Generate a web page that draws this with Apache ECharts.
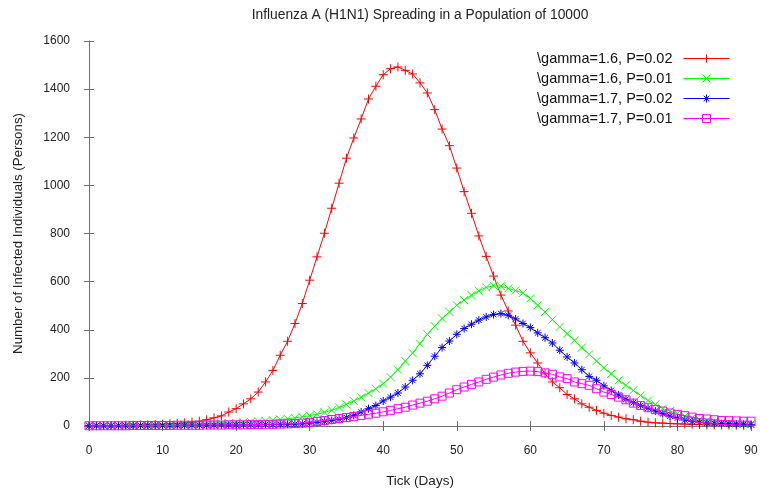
<!DOCTYPE html>
<html>
<head>
<meta charset="utf-8">
<script src="https://cdn.jsdelivr.net/npm/echarts@6/dist/echarts.min.js"></script>
<style>
html,body{margin:0;padding:0;background:#fff;}
#chart{width:760px;height:490px;}
</style>
</head>
<body>
<div id="chart"></div>
<script>
// Days 0..90
var days = [];
for (var d = 0; d <= 90; d++) days.push(d);

var seriesNames = [
  "\\gamma=1.6, P=0.02",
  "\\gamma=1.6, P=0.01",
  "\\gamma=1.7, P=0.02",
  "\\gamma=1.7, P=0.01"
];

var red = [1,1,2,2,2,3,3,4,5,6,7,9,11,13,16,20,26,34,42,58,72,92,113,141,183,231,294,352,426,509,606,703,801,905,1009,1113,1197,1276,1359,1412,1460,1485,1492,1478,1463,1426,1384,1315,1234,1165,1072,974,884,790,705,623,544,478,419,352,304,262,217,183,159,131,113,92,78,65,53,44,37,30,26,20,16,13,12,10,9,8,7,6,5,5,4,4,3,3,3];

var green = [1,1,1,2,2,2,3,3,3,4,4,5,5,6,7,8,9,10,11,12,14,15,17,19,21,24,27,30,34,38,43,49,57,66,77,90,104,119,137,155,176,203,234,270,303,342,381,415,447,474,502,523,544,562,576,583,581,572,563,553,530,502,474,442,412,384,356,326,298,270,242,217,190,169,148,127,106,90,72,62,51,41,34,27,22,18,15,12,10,9,8];

var blue = [1,1,1,1,1,1,1,2,2,2,2,2,2,3,3,3,3,3,4,4,4,5,5,5,6,6,7,7,8,9,12,15,19,23,28,35,44,58,72,85,104,120,137,162,190,217,252,290,326,353,381,405,423,440,453,463,467,460,445,426,409,387,367,345,315,287,262,234,206,190,167,148,129,111,97,85,74,62,51,41,33,25,19,15,12,11,10,9,8,7,6];

var magenta = [1,1,1,1,1,1,2,2,2,2,2,2,3,3,3,3,4,4,4,5,5,5,6,6,7,7,8,9,10,12,15,19,23,27,31,35,40,44,49,53,59,65,72,78,87,95,103,113,124,137,151,162,173,183,194,203,212,219,224,227,228,226,221,215,204,197,183,176,169,155,141,131,120,109,95,85,76,68,62,54,48,43,37,31,29,26,23,22,21,20,20];

var xTicks = {min: 0, max: 90, interval: 10};
var yTicks = {min: 0, max: 1600, interval: 200};

var colors = ['#ff0000', '#00ff00', '#0000ff', '#ff00ff'];
// open-path markers (stroked only): plus, cross, asterisk, hollow square
var symbols = [
  'path://M0,5L10,5M5,0L5,10',
  'path://M0,0L10,10M10,0L0,10',
  'path://M0,5L10,5M5,0L5,10M1.5,1.5L8.5,8.5M8.5,1.5L1.5,8.5',
  'path://M0,0L10,0M10,0L10,10M10,10L0,10M0,10L0,0'
];
var symbolSizes = [9, 8, 8, 8];
var allData = [red, green, blue, magenta];

function pairs(arr) {
  return days.map(function (d, i) { return [d, arr[i]]; });
}

var series = allData.map(function (arr, k) {
  return {
    name: seriesNames[k],
    type: 'line',
    data: pairs(arr),
    symbol: symbols[k],
    symbolSize: symbolSizes[k],
    showSymbol: true,
    color: colors[k],
    lineStyle: {color: colors[k], width: 1},
    itemStyle: {color: colors[k], borderColor: colors[k], borderWidth: 1},
    emphasis: {disabled: true},
    z: 2 + k
  };
});

var legendData = seriesNames.map(function (n, k) {
  return {
    name: n,
    lineStyle: {color: colors[k], width: 1},
    itemStyle: {color: colors[k], borderColor: colors[k], borderWidth: 1}
  };
});

var axisColor = '#707070';
var font = 'Liberation Sans';
var labelStyle = {color: '#222', fontSize: 12, fontFamily: font};

var chart = echarts.init(document.getElementById('chart'), null, {renderer: 'canvas'});
chart.setOption({
  animation: false,
  backgroundColor: '#fff',
  title: {
    text: 'Influenza A (H1N1) Spreading in a Population of 10000',
    left: 415,
    textAlign: 'center',
    top: 3,
    textStyle: {fontSize: 13.8, fontWeight: 'normal', color: '#222', fontFamily: font}
  },
  grid: {left: 89, right: 9, top: 41, bottom: 64, containLabel: false, outerBoundsMode: 'none'},
  legend: {
    orient: 'vertical',
    right: 25,
    top: 46,
    align: 'right',
    itemWidth: 46,
    itemHeight: 10,
    itemGap: 5,
    textStyle: {fontSize: 14.5, color: '#111', fontFamily: font, padding: [0, 6, 0, 0]},
    data: legendData
  },
  xAxis: [{
    type: 'value', min: xTicks.min, max: xTicks.max, interval: xTicks.interval,
    name: 'Tick (Days)', nameLocation: 'middle', nameGap: 48,
    nameTextStyle: {fontSize: 13.5, color: '#222', fontFamily: font},
    axisLine: {show: true, lineStyle: {color: axisColor, width: 1}},
    axisTick: {show: true, inside: true, length: 5, lineStyle: {color: axisColor}},
    axisLabel: Object.assign({margin: 19}, labelStyle),
    splitLine: {show: false}
  }, {
    type: 'value', position: 'top', min: xTicks.min, max: xTicks.max, interval: xTicks.interval,
    axisLine: {show: true, lineStyle: {color: axisColor, width: 1}},
    axisTick: {show: true, inside: true, length: 5, lineStyle: {color: axisColor}},
    axisLabel: {show: false},
    splitLine: {show: false}
  }],
  yAxis: [{
    type: 'value', min: yTicks.min, max: yTicks.max, interval: yTicks.interval,
    name: 'Number of Infected Individuals (Persons)', nameLocation: 'middle', nameGap: 64, nameRotate: 90,
    nameTextStyle: {fontSize: 13.3, color: '#222', fontFamily: font},
    axisLine: {show: true, lineStyle: {color: axisColor, width: 1}},
    axisTick: {show: true, inside: true, length: 5, lineStyle: {color: axisColor}},
    axisLabel: Object.assign({margin: 19, formatter: function (v) { return String(v); }}, labelStyle),
    splitLine: {show: false}
  }, {
    type: 'value', position: 'right', min: yTicks.min, max: yTicks.max, interval: yTicks.interval,
    axisLine: {show: true, lineStyle: {color: axisColor, width: 1}},
    axisTick: {show: true, inside: true, length: 5, lineStyle: {color: axisColor}},
    axisLabel: {show: false},
    splitLine: {show: false}
  }],
  series: series
});
</script>
</body>
</html>
